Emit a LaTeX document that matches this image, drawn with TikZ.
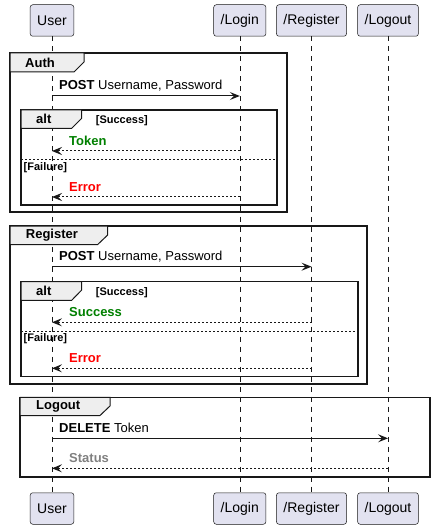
\documentclass[tikz,border=0pt]{standalone}
\usepackage{fontspec}
\setmainfont{Liberation Sans}
\usepackage{tikz}
\usetikzlibrary{arrows.meta, positioning}
\usepackage{xcolor}
\definecolor{partfill}{HTML}{E2E2F0}
\definecolor{ink}{HTML}{181818}
\definecolor{tabfill}{HTML}{EEEEEE}
\definecolor{okgreen}{HTML}{008000}
\definecolor{errred}{HTML}{FF0000}
\definecolor{stgray}{HTML}{808080}

\tikzset{
  part/.style={draw=ink, fill=partfill, rounded corners=2.5pt, line width=0.5pt,
    minimum height=31.5pt, inner xsep=7pt, font=\fontsize{14}{16}\selectfont},
  life/.style={draw=ink, line width=0.5pt, dash pattern=on 5pt off 5pt},
  call/.style={draw=ink, line width=1pt, -{Stealth[length=10pt, width=8pt, inset=4pt]}},
  reply/.style={call, dash pattern=on 2pt off 2pt},
  frame/.style={draw=ink, line width=1.5pt},
  tab/.style={draw=ink, fill=tabfill, line width=1pt},
  sep/.style={draw=ink, line width=1pt, dash pattern=on 2pt off 2pt},
  grplabel/.style={anchor=west, inner sep=0pt, font=\bfseries\fontsize{13}{15}\selectfont},
  guard/.style={anchor=base west, inner sep=0pt, font=\bfseries\fontsize{11}{13}\selectfont},
  msglabel/.style={anchor=base west, inner sep=0pt, font=\fontsize{13}{15}\selectfont}
}

\begin{document}
\begin{tikzpicture}[x=1pt, y=-1pt]
        \useasboundingbox (0,0) rectangle (434,529);
        % participants
        \node[part] (user)  at (52,20.5)  {User};
        \node[part] (login) at (239.8,20.5) {/Login};
        \node[part] (reg)   at (311.5,20.5) {/Register};
        \node[part] (logout) at (388,20.5) {/Logout};
        \node[part] (user2)  at (52,508.5)  {User};
        \node[part] (login2) at (239.8,508.5) {/Login};
        \node[part] (reg2)   at (311.5,508.5) {/Register};
        \node[part] (logout2) at (388,508.5) {/Logout};
        \foreach \p in {user, login, reg, logout}
            \draw[life] (\p) -- (\p2);

        % Auth
        \draw[frame] (10,53) rectangle (287,212);
        \draw[tab] (10,53) -- (84,53) -- (84,62) -- (74,72) -- (10,72) -- cycle;
        \node[grplabel] (authlbl) at (25,62.5) {Auth};
        \draw[call] (user |- 0,96) -- (login |- 0,96);
        \node[msglabel] (authmsg) at (59,90) {\textbf{POST} Username, Password};
        \draw[frame, line width=1.5pt] (21,110) rectangle (277,205);
        \draw[tab] (21,110) -- (81.7,110) -- (81.7,118.3) -- (71.7,128.3) -- (21,128.3) -- cycle;
        \node[grplabel] (alt1) at (36,119.2) {alt};
        \node[guard] (succ1) at (95.7,123.5) {[Success]};
        \draw[reply] (login |- 0,151) -- (user |- 0,151);
        \node[msglabel, font=\bfseries\fontsize{13}{15}\selectfont, okgreen] (token) at (69,145.5) {Token};
        \draw[sep] (21,160) -- (277,160);
        \node[guard] (fail1) at (23.5,170.5) {[Failure]};
        \draw[reply] (login |- 0,197) -- (user |- 0,197);
        \node[msglabel, font=\bfseries\fontsize{13}{15}\selectfont, errred] (err1) at (69,191.5) {Error};

        % Register
        \draw[frame] (10,226) rectangle (367,384);
        \draw[tab] (10,226) -- (107.7,226) -- (107.7,235) -- (97.7,244.5) -- (10,244.5) -- cycle;
        \node[grplabel] (reglbl) at (25.7,235.5) {Register};
        \draw[call] (user |- 0,266.7) -- (reg |- 0,266.7);
        \node[msglabel] (regmsg) at (59,260.7) {\textbf{POST} Username, Password};
        \draw[frame] (21,281.7) rectangle (358,376.7);
        \draw[tab] (21,281.7) -- (81.7,281.7) -- (81.7,290) -- (71.7,300.3) -- (21,300.3) -- cycle;
        \node[grplabel] (alt2) at (36,291) {alt};
        \node[guard] (succ2) at (95.7,295.2) {[Success]};
        \draw[reply] (reg |- 0,322.3) -- (user |- 0,322.3);
        \node[msglabel, font=\bfseries\fontsize{13}{15}\selectfont, okgreen] (ok2) at (69,316.8) {Success};
        \draw[sep] (21,331) -- (358,331);
        \node[guard] (fail2) at (23.5,341.5) {[Failure]};
        \draw[reply] (reg |- 0,368.3) -- (user |- 0,368.3);
        \node[msglabel, font=\bfseries\fontsize{13}{15}\selectfont, errred] (err2) at (69,362.8) {Error};

        % Logout
        \draw[frame] (20,397.3) rectangle (430,477);
        \draw[tab] (20,397.3) -- (110,397.3) -- (110,406) -- (100,415.5) -- (20,415.5) -- cycle;
        \node[grplabel] (outlbl) at (36,406.5) {Logout};
        \draw[call] (user |- 0,438.3) -- (logout |- 0,438.3);
        \node[msglabel] (delmsg) at (59,432.3) {\textbf{DELETE} Token};
        \draw[reply] (logout |- 0,468.3) -- (user |- 0,468.3);
        \node[msglabel, font=\bfseries\fontsize{13}{15}\selectfont, stgray] (status) at (69,462.8) {Status};
    \end{tikzpicture}
\end{document}
